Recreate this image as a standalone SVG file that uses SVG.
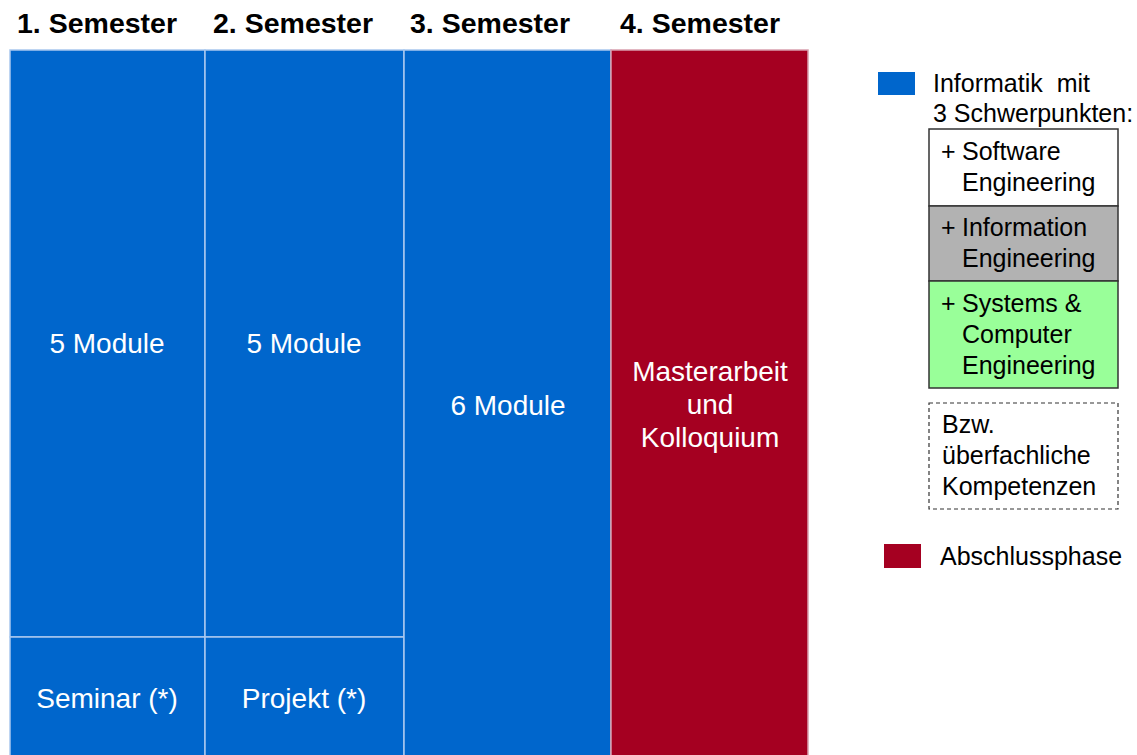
<svg xmlns="http://www.w3.org/2000/svg" width="1137" height="755" viewBox="0 0 1137 755">
<style>
.hdr{font-family:"Liberation Sans",Arial,sans-serif;font-weight:bold;font-size:28.5px;fill:#000}
.blk{font-family:"Liberation Sans",Arial,sans-serif;font-size:28px;fill:#fff;text-anchor:middle}
.leg{font-family:"Liberation Sans",Arial,sans-serif;font-size:25px;fill:#000}
.blue{fill:#0066CC;stroke:#a9c8ee;stroke-width:1.5}
.red{fill:#A50021;stroke:#d9a0ae;stroke-width:1.5}
.lbox{stroke:#333;stroke-width:1.5}
</style>
<rect width="1137" height="755" fill="#fff"/>
<g id="headers">
<text class="hdr" x="17" y="33">1. Semester</text>
<text class="hdr" x="213" y="33">2. Semester</text>
<text class="hdr" x="410" y="33">3. Semester</text>
<text class="hdr" x="620" y="33">4. Semester</text>
</g>
<g id="sem1-module">
<rect class="blue" x="10" y="50" width="195" height="587"/>
<text class="blk" x="107" y="353">5 Module</text>
</g>
<g id="sem1-seminar">
<rect class="blue" x="10" y="637" width="195" height="125"/>
<text class="blk" x="107" y="708">Seminar (*)</text>
</g>
<g id="sem2-module">
<rect class="blue" x="205" y="50" width="199" height="587"/>
<text class="blk" x="304" y="353">5 Module</text>
</g>
<g id="sem2-projekt">
<rect class="blue" x="205" y="637" width="199" height="125"/>
<text class="blk" x="304" y="708">Projekt (*)</text>
</g>
<g id="sem3-module">
<rect class="blue" x="404" y="50" width="207" height="712"/>
<text class="blk" x="508" y="415">6 Module</text>
</g>
<g id="sem4-master">
<rect class="red" x="611" y="50" width="197" height="712"/>
<text class="blk" x="710" y="381">Masterarbeit</text>
<text class="blk" x="710" y="414">und</text>
<text class="blk" x="710" y="447">Kolloquium</text>
</g>
<g id="connectors"></g>
<g id="legend-informatik">
<rect x="878" y="72" width="37" height="23" fill="#0066CC"/>
<text class="leg" x="933" y="92" xml:space="preserve">Informatik  mit</text>
<text class="leg" x="933" y="122">3 Schwerpunkten:</text>
</g>
<g id="legend-software">
<rect class="lbox" x="929" y="129" width="189" height="77" fill="#fff"/>
<text class="leg" x="941" y="160">+</text>
<text class="leg" x="962" y="160">Software</text>
<text class="leg" x="962" y="191">Engineering</text>
</g>
<g id="legend-information">
<rect class="lbox" x="929" y="206" width="189" height="75" fill="#B2B2B2"/>
<text class="leg" x="941" y="236">+</text>
<text class="leg" x="962" y="236">Information</text>
<text class="leg" x="962" y="267">Engineering</text>
</g>
<g id="legend-systems">
<rect class="lbox" x="929" y="281" width="189" height="107" fill="#99FF99"/>
<text class="leg" x="941" y="312">+</text>
<text class="leg" x="962" y="312">Systems &amp;</text>
<text class="leg" x="962" y="343">Computer</text>
<text class="leg" x="962" y="374">Engineering</text>
</g>
<g id="legend-ueberfachlich">
<rect x="929" y="403" width="189" height="106" fill="#fff" stroke="#333" stroke-width="1.2" stroke-dasharray="4,3"/>
<text class="leg" x="942" y="433">Bzw.</text>
<text class="leg" x="942" y="464">überfachliche</text>
<text class="leg" x="942" y="495">Kompetenzen</text>
</g>
<g id="legend-abschluss">
<rect x="884" y="544" width="37" height="24" fill="#A50021"/>
<text class="leg" x="940" y="565">Abschlussphase</text>
</g>
</svg>
